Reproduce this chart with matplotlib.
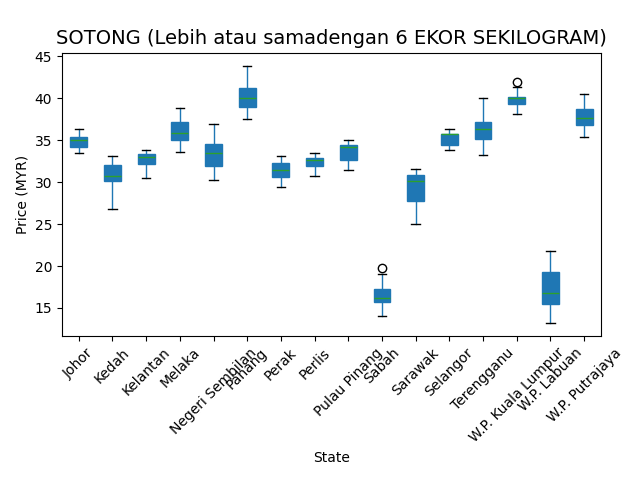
import matplotlib
matplotlib.use("Agg")
import matplotlib.pyplot as plt

states = ["Johor", "Kedah", "Kelantan", "Melaka", "Negeri Sembilan", "Pahang", "Perak",
          "Perlis", "Pulau Pinang", "Sabah", "Sarawak", "Selangor", "Terengganu",
          "W.P. Kuala Lumpur", "W.P. Labuan", "W.P. Putrajaya"]
whislo = [33.5, 26.8, 30.5, 33.6, 30.3, 37.5, 29.4, 30.8, 31.5, 14.1, 25.0, 33.8, 33.2, 38.1, 13.2, 35.4]
q1 = [34.2, 30.1, 32.2, 35.0, 31.9, 39.0, 30.6, 31.9, 32.7, 15.7, 27.8, 34.4, 35.2, 39.3, 15.5, 36.8]
med = [35.0, 30.7, 33.0, 35.9, 33.5, 40.1, 31.5, 32.7, 34.2, 16.2, 30.1, 35.7, 36.3, 40.0, 16.8, 37.7]
q3 = [35.4, 32.1, 33.4, 37.2, 34.6, 41.2, 32.3, 32.9, 34.4, 17.3, 30.9, 35.8, 37.2, 40.2, 19.3, 38.7]
whishi = [36.4, 33.1, 33.9, 38.9, 36.9, 43.9, 33.1, 33.5, 35.0, 19.0, 31.6, 36.4, 40.0, 41.3, 21.8, 40.5]
fliers = [[], [], [], [], [], [], [], [], [], [19.8], [], [], [], [41.9], [], []]

stats = []
for i in range(len(states)):
    stats.append(dict(label=states[i], whislo=whislo[i], q1=q1[i], med=med[i],
                      q3=q3[i], whishi=whishi[i], fliers=fliers[i]))

fig, ax = plt.subplots(figsize=(6.4, 4.8), dpi=100)
ax.bxp(stats, patch_artist=True,
       boxprops=dict(facecolor="C0", edgecolor="C0"),
       medianprops=dict(color="C2"),
       whiskerprops=dict(color="C0"),
       capprops=dict(color="black"),
       flierprops=dict(marker="o", markerfacecolor="none", markeredgecolor="black"))
ax.set_title("SOTONG (Lebih atau samadengan 6 EKOR SEKILOGRAM)", fontsize=14)
ax.set_xlabel("State")
ax.set_ylabel("Price (MYR)")
ax.set_xticklabels(states, rotation=45)
fig.tight_layout()
fig.subplots_adjust(top=0.89)
fig.savefig("out.png")
